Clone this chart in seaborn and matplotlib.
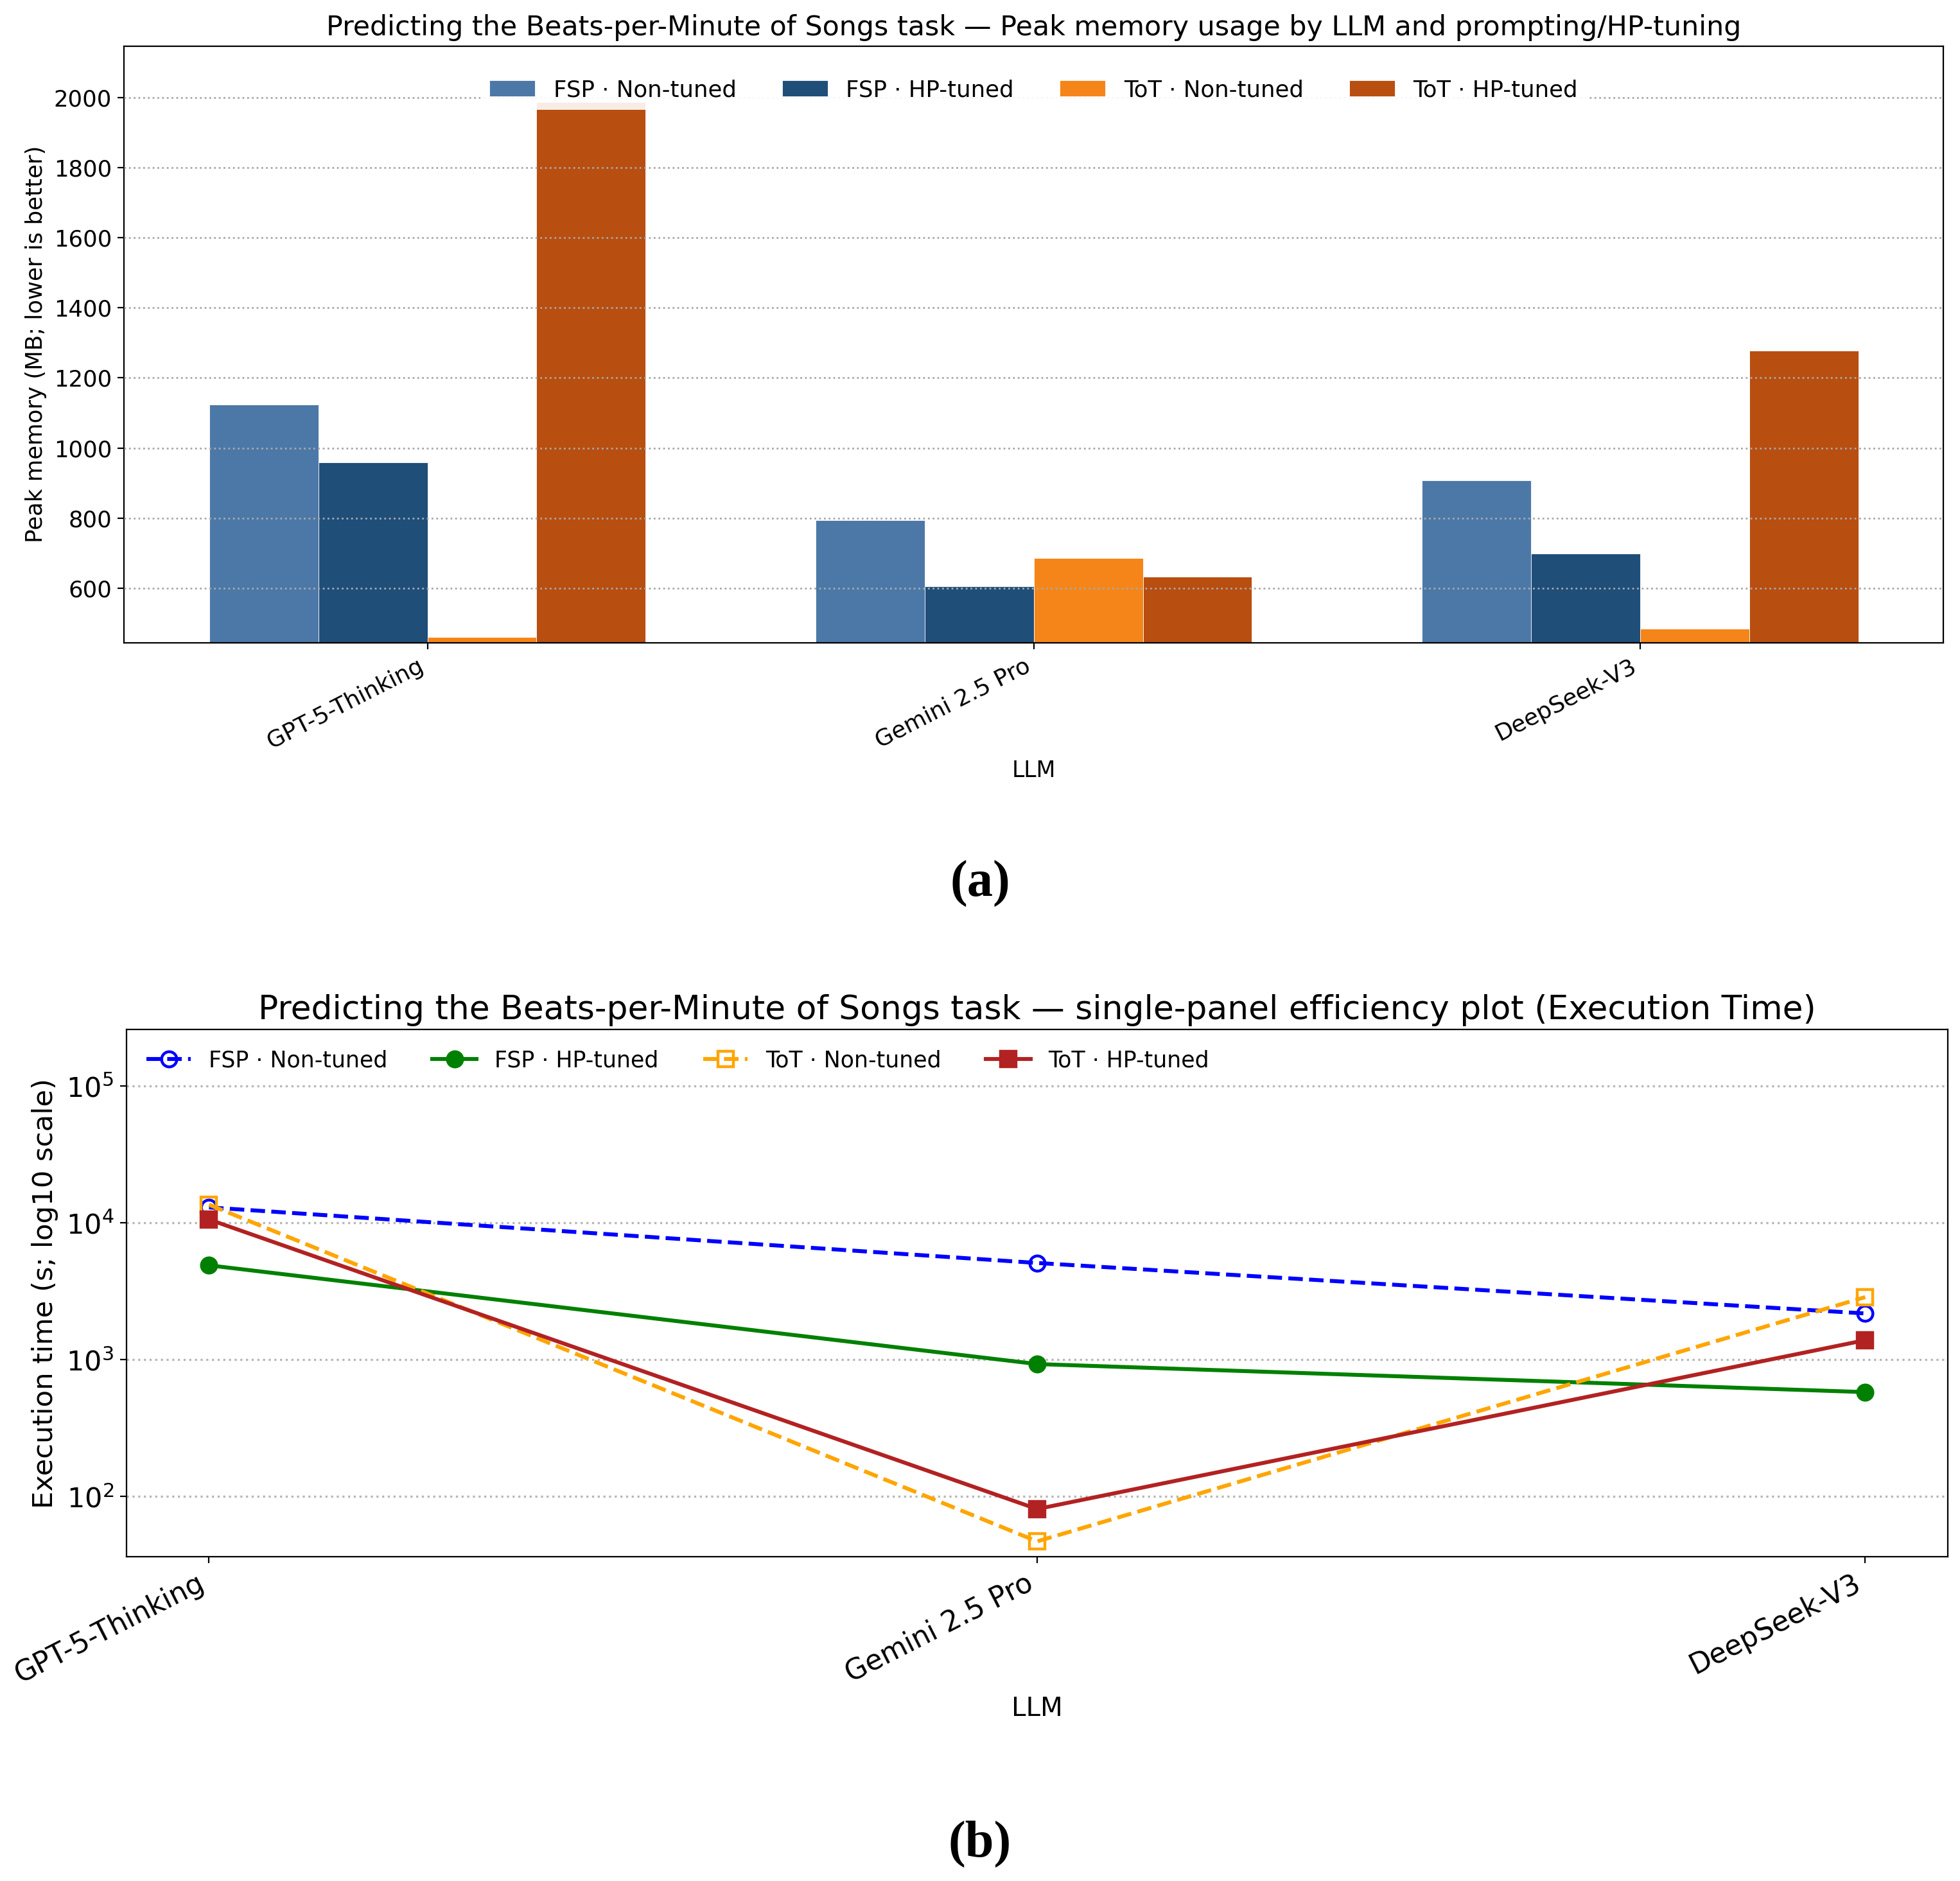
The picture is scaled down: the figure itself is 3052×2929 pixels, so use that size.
import numpy as np
import pandas as pd
import matplotlib
matplotlib.use("Agg")
import matplotlib.pyplot as plt
from matplotlib.ticker import NullLocator
import seaborn as sns

# ---------------- data ----------------
llms = ["GPT-5-Thinking", "Gemini 2.5 Pro", "DeepSeek-V3"]
configs = ["FSP · Non-tuned", "FSP · HP-tuned", "ToT · Non-tuned", "ToT · HP-tuned"]

# Peak memory (MB)
mem_fsp_non = [1124, 795, 908]
mem_fsp_hp = [959, 606, 700]
mem_tot_non = [462, 687, 485]
mem_tot_hp = [1986, 634, 1278]

# Execution time (s)
time_fsp_non = [13000, 5100, 2180]
time_fsp_hp = [4900, 930, 580]
time_tot_non = [13600, 47, 2870]
time_tot_hp = [10600, 81, 1390]

bar_colors = ["#4C78A8", "#1F4E79", "#F58518", "#B84E10"]

mem_df = pd.DataFrame({
    "LLM": llms * 4,
    "Config": [c for c in configs for _ in llms],
    "Peak": mem_fsp_non + mem_fsp_hp + mem_tot_non + mem_tot_hp,
})

W, H, DPI = 3052, 2929, 200
fig = plt.figure(figsize=(W / DPI, H / DPI), dpi=DPI)

# ---------------- panel (a) ----------------
ax1 = fig.add_axes([0.0634, 0.6584, 0.9280, 0.3171])
sns.barplot(data=mem_df, x="LLM", y="Peak", hue="Config", hue_order=configs,
            order=llms, palette=bar_colors, saturation=1, width=0.72,
            edgecolor="white", linewidth=0.3, ax=ax1, legend=True)
ax1.set_axisbelow(False)
ax1.yaxis.grid(True, linestyle=":", color="#a8a8a8", linewidth=1.0)
ax1.xaxis.grid(False)
ax1.set_ylim(445.5, 2146)
ax1.set_xlim(-0.5, 2.5)
ax1.set_title("Predicting the Beats-per-Minute of Songs task — Peak memory usage by LLM and prompting/HP-tuning",
              fontsize=15.4)
ax1.set_xlabel("LLM", fontsize=12.5)
ax1.set_ylabel("Peak memory (MB; lower is better)", fontsize=12.8)
ax1.tick_params(axis="y", labelsize=12.8)
ax1.tick_params(axis="x", labelsize=13)
plt.setp(ax1.get_xticklabels(), rotation=27, ha="right")
ax1.legend(loc="upper center", bbox_to_anchor=(0.5, 0.979), ncol=4,
           fontsize=12.8, framealpha=0.9, edgecolor="none", fancybox=False)

# ---------------- panel (b) ----------------
ax2 = fig.add_axes([0.0644, 0.1724, 0.9295, 0.2802])
series = [
    (configs[0], time_fsp_non, "blue", "o", "--", "none"),
    (configs[1], time_fsp_hp, "green", "o", "-", "green"),
    (configs[2], time_tot_non, "orange", "s", "--", "none"),
    (configs[3], time_tot_hp, "firebrick", "s", "-", "firebrick"),
]
for label, vals, col, mk, ls, mfc in series:
    sns.lineplot(x=llms, y=vals, color=col, marker=mk, linestyle=ls,
                 markerfacecolor=mfc, markeredgecolor=col, markeredgewidth=1.6,
                 markersize=8.5, linewidth=2.2, label=label, ax=ax2, sort=False)
ax2.set_yscale("log")
ax2.set_ylim(36.3, 2.59e5)
ax2.yaxis.set_minor_locator(NullLocator())
ax2.yaxis.grid(True, which="major", linestyle=":", color="#b8b8b8", linewidth=1.2)
ax2.xaxis.grid(False)
ax2.margins(x=0.05)
ax2.set_title("Predicting the Beats-per-Minute of Songs task — single-panel efficiency plot (Execution Time)",
              fontsize=18.7)
ax2.set_xlabel("LLM", fontsize=14.5)
ax2.set_ylabel("Execution time (s; log10 scale)", fontsize=15.6)
ax2.tick_params(axis="y", labelsize=15.5)
ax2.tick_params(axis="x", labelsize=15.7)
plt.setp(ax2.get_xticklabels(), rotation=27, ha="right")
ax2.legend(loc="upper left", ncol=4, fontsize=12.5, frameon=False)

# ---------------- sub-captions ----------------
cap_font = ["Liberation Serif", "DejaVu Serif"]
fig.text(0.5, 0.530, "(a)", ha="center", va="center", fontsize=29,
         fontweight="bold", family=cap_font)
fig.text(0.5, 0.0198, "(b)", ha="center", va="center", fontsize=29,
         fontweight="bold", family=cap_font)

fig.savefig("out.png", dpi=DPI)
